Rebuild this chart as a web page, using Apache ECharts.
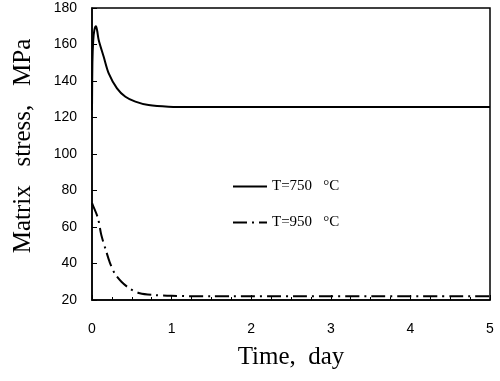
<!DOCTYPE html>
<html><head><meta charset="utf-8">
<script src="https://cdn.jsdelivr.net/npm/echarts@6/dist/echarts.min.js"></script>
<style>html,body{margin:0;padding:0;background:#fff}#c{width:500px;height:381px}</style>
</head><body><div id="c"></div>
<script>
const xTicks = [0, 1, 2, 3, 4, 5];
const yTicks = [20, 40, 60, 80, 100, 120, 140, 160, 180];
const t750 = [0, 0.005, 0.015, 0.03, 0.05, 0.065, 0.084, 0.147, 0.21, 0.314, 0.42, 0.545, 0.71, 0.96, 1.3, 5];
const s750 = [124, 150, 162, 168, 170, 167.5, 162.5, 153.3, 144.2, 136, 131.4, 128.7, 126.8, 125.9, 125.7, 125.7];
const t950 = [0, 0.01, 0.075, 0.117, 0.18, 0.22, 0.285, 0.37, 0.47, 0.6, 0.79, 1, 1.5, 5];
const s950 = [73, 72, 64.8, 55.6, 46.5, 41, 34.6, 30, 26.4, 23.7, 22.7, 22.3, 22, 22];
const names = ['T=750   °C', 'T=950   °C'];

const chart = echarts.init(document.getElementById('c'), null, {renderer: 'canvas'});
const sans = 'Liberation Sans';
const serif = 'Liberation Serif';
chart.setOption({
  animation: false,
  grid: {left: 92, right: 10, top: 8, bottom: 81, show: true, borderColor: '#000', borderWidth: 1.5},
  legend: {
    orient: 'vertical', left: 227, top: 174, itemGap: 21, itemWidth: 34, itemHeight: 14,
    itemStyle: {opacity: 0},
    textStyle: {fontFamily: serif, fontSize: 15, color: '#000'},
    data: names
  },
  xAxis: {
    type: 'value', min: xTicks[0], max: xTicks[xTicks.length - 1], interval: 1,
    name: 'Time,  day', nameLocation: 'middle', nameGap: 45,
    nameTextStyle: {fontFamily: serif, fontSize: 25, color: '#000'},
    axisLine: {lineStyle: {color: '#000', width: 1.5}},
    axisTick: {inside: true, length: 5, lineStyle: {color: '#000'}},
    minorTick: {show: true, splitNumber: 4, length: 3, lineStyle: {color: '#000'}},
    axisLabel: {fontFamily: sans, fontSize: 14, color: '#000', margin: 22},
    splitLine: {show: false}
  },
  yAxis: {
    type: 'value', min: yTicks[0], max: yTicks[yTicks.length - 1], interval: 20,
    name: 'Matrix   stress,   MPa', nameLocation: 'middle', nameGap: 56,
    nameTextStyle: {fontFamily: serif, fontSize: 25, color: '#000', padding: [0, 0, 0, 16]},
    axisLine: {show: true, lineStyle: {color: '#000', width: 1.5}},
    axisTick: {show: true, inside: true, length: 5, lineStyle: {color: '#000'}},
    axisLabel: {fontFamily: sans, fontSize: 14, color: '#000', margin: 15},
    splitLine: {show: false}
  },
  series: [
    {name: names[0], type: 'line', symbol: 'none', smooth: 0.3,
     lineStyle: {color: '#000', width: 2},
     itemStyle: {color: '#000'},
     data: t750.map((t, i) => [t, s750[i]])},
    {name: names[1], type: 'line', symbol: 'none', smooth: 0.3,
     lineStyle: {color: '#000', width: 2, type: [14, 5, 2, 5]},
     itemStyle: {color: '#000'},
     data: t950.map((t, i) => [t, s950[i]])}
  ]
});
</script></body></html>
